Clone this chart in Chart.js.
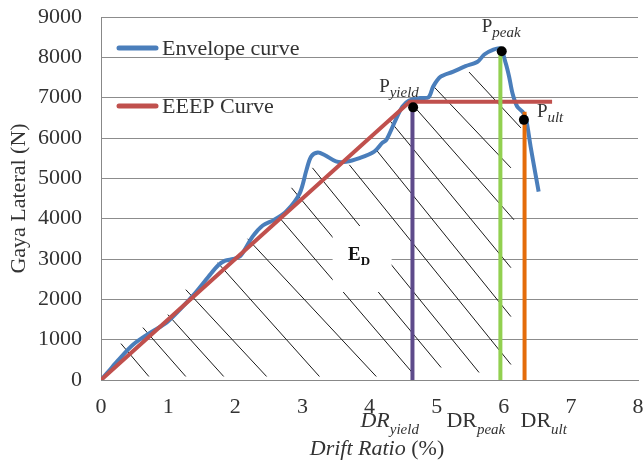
<!DOCTYPE html>
<html><head><meta charset="utf-8">
<script src="https://cdn.jsdelivr.net/npm/chart.js@4.4.1/dist/chart.umd.min.js"></script>
<style>html,body{margin:0;padding:0;background:#fff;}#wrap{width:643px;height:465px;}</style>
</head><body><div id="wrap"><canvas id="c" width="643" height="465"></canvas></div>
<script>
// ---------- data ----------
const envX = [0, 0.12, 0.25, 0.48, 0.73, 0.98, 1.2, 1.4, 1.6, 1.75, 1.85, 1.97, 2.08, 2.26, 2.41, 2.58, 2.76, 2.96, 3.06, 3.13, 3.23, 3.33, 3.5, 3.65, 3.85, 4.07, 4.19, 4.25, 4.39, 4.49, 4.59, 4.75, 4.88, 4.95, 5.06, 5.24, 5.43, 5.61, 5.71, 5.83, 5.95, 6.03, 6.08, 6.13, 6.2, 6.28, 6.33, 6.4, 6.47, 6.52];
const envY = [0, 230, 480, 880, 1170, 1430, 1790, 2150, 2560, 2850, 2960, 3000, 3080, 3560, 3830, 3970, 4180, 4630, 5200, 5540, 5640, 5580, 5420, 5410, 5500, 5660, 5880, 5950, 6450, 6780, 6930, 6990, 7010, 7280, 7520, 7640, 7780, 7890, 8070, 8180, 8220, 7850, 7520, 7110, 6780, 6650, 6490, 5790, 5130, 4670];
const eeepX = [0, 4.6, 6.72];
const eeepY = [0, 6900, 6900];
const keyNames = ['yield', 'peak', 'ult'];
const keyX = [4.65, 5.97, 6.30];
const keyY = [6760, 8150, 6450];
const dropX = [4.64, 5.95, 6.31];
const dropTopY = [6780, 8250, 6650];
const hatchX1 = [0.297, 0.624, 0.996, 1.263, 1.738, 2.184, 2.660, 2.838, 3.150, 3.700, 4.101, 4.294, 4.710, 4.963, 5.483];
const hatchY1 = [903, 1299, 1621, 2240, 2908, 3502, 4022, 4765, 5260, 5334, 5705, 6448, 6695, 7264, 7635];
const hatchX2 = [0.713, 1.263, 1.828, 2.467, 3.254, 4.101, 4.636, 5.067, 5.632, 6.107, 6.107, 6.107, 6.152, 6.107, 6.256];
const hatchY2 = [87, 87, 87, 87, 87, 87, 186, 309, 186, 384, 1572, 2784, 3972, 5259, 6250];
const xTicks = [0, 1, 2, 3, 4, 5, 6, 7, 8];
const yTicks = [0, 1000, 2000, 3000, 4000, 5000, 6000, 7000, 8000, 9000];
const edLabelX = 3.89, edLabelY = 3000;

// ---------- build ----------
const SERIF = '"Liberation Serif", "Times New Roman", serif';
const TXT = '#333333';
const dropColors = ['#5E4B8B', '#92D050', '#E46C0A'];

const hatchData = [];
hatchX1.forEach((x, i) => {
  hatchData.push({x: x, y: hatchY1[i]});
  hatchData.push({x: hatchX2[i], y: hatchY2[i]});
  hatchData.push({x: hatchX2[i], y: null});
});

const datasets = [
  {label: 'Envelope curve', data: envX.map((x, i) => ({x, y: envY[i]})), borderColor: '#4A7EBB', borderWidth: 4, tension: 0.3, pointRadius: 0, showLine: true, order: 3},
  {label: 'EEEP Curve', data: eeepX.map((x, i) => ({x, y: eeepY[i]})), borderColor: '#C0504D', borderWidth: 4, tension: 0, pointRadius: 0, showLine: true, order: 2},
];
dropX.forEach((x, i) => {
  datasets.push({label: 'DR_' + keyNames[i], data: [{x, y: 0}, {x, y: dropTopY[i]}], borderColor: dropColors[i], borderWidth: 4, pointRadius: 0, showLine: true, order: 1});
});
datasets.push({label: 'points', data: keyX.map((x, i) => ({x, y: keyY[i]})), showLine: false, pointRadius: 5, pointBackgroundColor: '#000', pointBorderColor: '#000', pointBorderWidth: 0, order: 0});
datasets.push({label: 'hatch', data: hatchData, borderColor: '#1a1a1a', borderWidth: 1, pointRadius: 0, showLine: true, spanGaps: false, order: 10});

function rich(ctx, parts, x, y) {
  let cx = x;
  parts.forEach(p => {
    ctx.font = p.font;
    ctx.fillText(p.text, cx, y + (p.dy || 0));
    cx += ctx.measureText(p.text).width;
  });
  return cx - x;
}
function richWidth(ctx, parts) {
  let w = 0;
  parts.forEach(p => { ctx.font = p.font; w += ctx.measureText(p.text).width; });
  return w;
}

const annot = {
  id: 'annot',
  afterDatasetsDraw(chart) {
    const {ctx, scales: {x, y}} = chart;
    const cx = x.getPixelForValue(edLabelX), cy = y.getPixelForValue(edLabelY);
    ctx.save();
    ctx.fillStyle = '#fff';
    ctx.fillRect(cx - 29.5, cy - 33, 59, 66);
    ctx.fillStyle = '#111';
    ctx.textBaseline = 'alphabetic';
    rich(ctx, [
      {text: 'E', font: 'bold 19px ' + SERIF},
      {text: 'D', font: 'bold 13px ' + SERIF, dy: 5}
    ], cx - 14, cy + 1);
    ctx.restore();
  },
  afterDraw(chart) {
    const {ctx, scales: {x, y}} = chart;
    ctx.save();
    ctx.fillStyle = TXT;
    ctx.textBaseline = 'alphabetic';
    const pOff = [[-34, -15], [-20, -19], [13, -3]];
    keyNames.forEach((n, i) => {
      const px = x.getPixelForValue(keyX[i]), py = y.getPixelForValue(keyY[i]);
      rich(ctx, [
        {text: 'P', font: '19px ' + SERIF},
        {text: n, font: 'italic 15px ' + SERIF, dy: 5}
      ], px + pOff[i][0], py + pOff[i][1]);
    });
    const drOff = [-52, -54, -4];
    const drFont = ['italic 22px ', '22px ', '22px '];
    const base = y.bottom + 47;
    keyNames.forEach((n, i) => {
      const px = x.getPixelForValue(dropX[i]);
      rich(ctx, [
        {text: 'DR', font: drFont[i] + SERIF},
        {text: n, font: 'italic 15px ' + SERIF, dy: 7}
      ], px + drOff[i], base);
    });
    const tParts = [
      {text: 'Drift Ratio ', font: 'italic 22px ' + SERIF},
      {text: '(%)', font: '22px ' + SERIF}
    ];
    const tw = richWidth(ctx, tParts);
    rich(ctx, tParts, 377 - tw / 2, y.bottom + 75);
    [0, 1].forEach(i => {
      const ds = chart.data.datasets[i];
      const ly = [48, 106][i];
      ctx.strokeStyle = ds.borderColor;
      ctx.lineWidth = 5;
      ctx.lineCap = 'round';
      ctx.beginPath();
      ctx.moveTo(119, ly);
      ctx.lineTo(156, ly);
      ctx.stroke();
      ctx.font = '22px ' + SERIF;
      ctx.fillStyle = TXT;
      ctx.fillText(ds.label, 162, ly + 6.5);
    });
    ctx.restore();
  }
};

new Chart(document.getElementById('c'), {
  type: 'scatter',
  data: {datasets},
  options: {
    responsive: false,
    devicePixelRatio: 1,
    animation: false,
    layout: {padding: {left: 0, top: 17, right: 4, bottom: 0}},
    plugins: {legend: {display: false}, tooltip: {enabled: false}},
    scales: {
      x: {
        type: 'linear', min: 0, max: 8, position: 'bottom',
        afterBuildTicks: s => { s.ticks = xTicks.map(v => ({value: v})); },
        afterFit: s => { s.height = 85; s.paddingLeft = 0; s.paddingRight = 0; },
        grid: {display: false, drawTicks: false},
        border: {display: true, color: '#888', width: 1},
        ticks: {font: {family: SERIF, size: 22}, color: TXT, padding: 14, maxRotation: 0, autoSkip: false, callback: v => String(v)}
      },
      y: {
        type: 'linear', min: 0, max: 9000,
        afterBuildTicks: s => { s.ticks = yTicks.map(v => ({value: v})); },
        afterFit: s => { s.width = 101; s.paddingTop = 0; s.paddingBottom = 0; },
        grid: {color: '#8c8c8c', lineWidth: 1, drawTicks: false},
        border: {display: true, color: '#888', width: 1},
        ticks: {font: {family: SERIF, size: 22}, color: TXT, padding: 19, callback: v => String(v)},
        title: {display: true, text: 'Gaya Lateral (N)', font: {family: SERIF, size: 22}, color: TXT, padding: {top: 6, bottom: 0}}
      }
    }
  },
  plugins: [annot]
});
</script></body></html>
